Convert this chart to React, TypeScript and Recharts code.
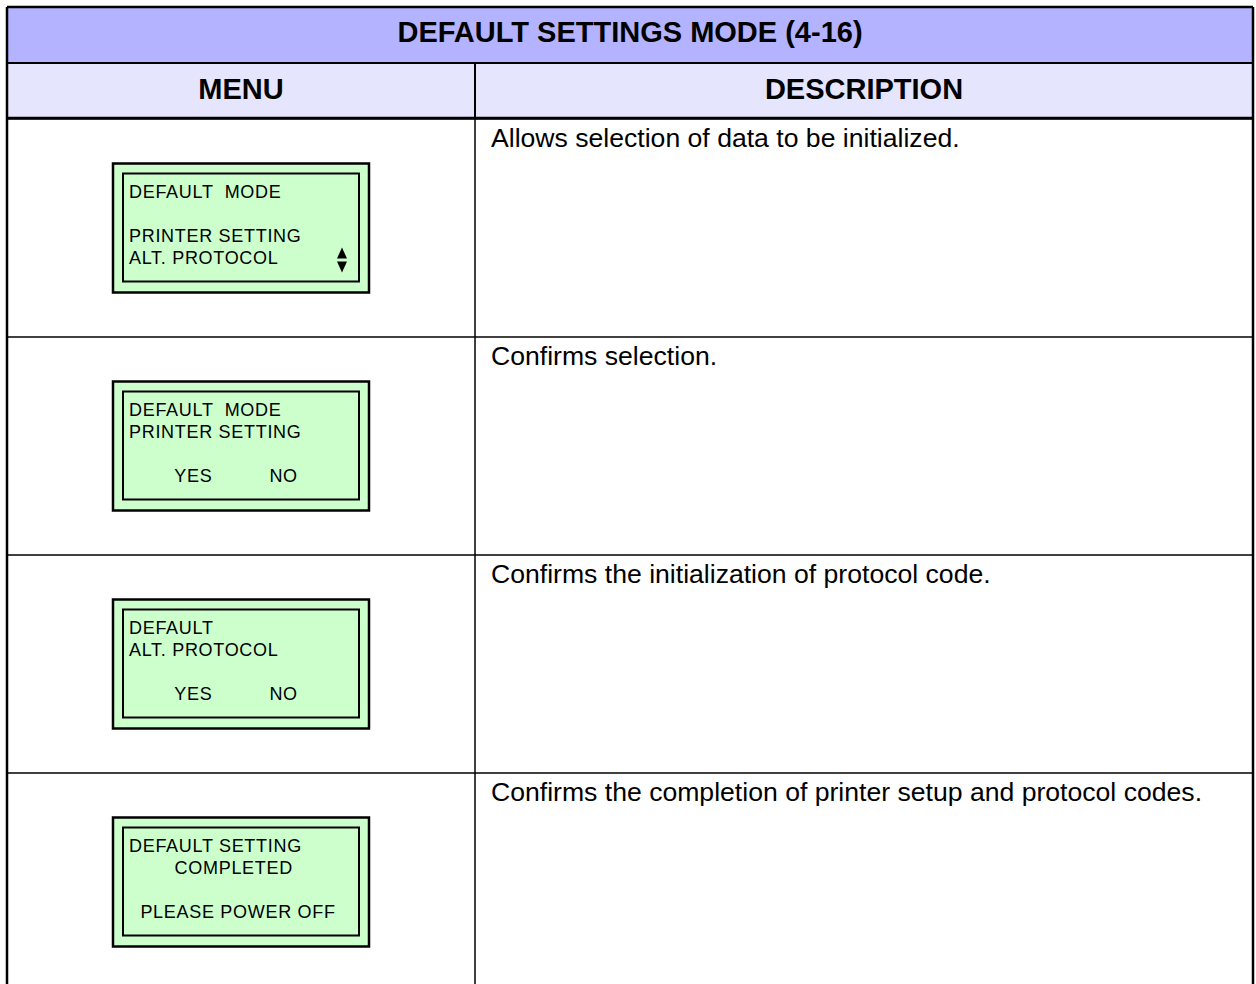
import { BarChart, Bar, XAxis, YAxis, Customized } from 'recharts';

// rows of the settings table (one band per row)
const rowIds = ['select', 'confirm', 'protocol', 'complete'];
const rowSpan = [1, 1, 1, 1];
const lcdLines = [
  ['DEFAULT  MODE', '', 'PRINTER SETTING', 'ALT. PROTOCOL'],
  ['DEFAULT  MODE', 'PRINTER SETTING', '', '        YES          NO'],
  ['DEFAULT', 'ALT. PROTOCOL', '', '        YES          NO'],
  ['DEFAULT SETTING', '        COMPLETED', '', '  PLEASE POWER OFF'],
];
const lcdScroll = [true, false, false, false];
const descriptions = [
  'Allows selection of data to be initialized.',
  'Confirms selection.',
  'Confirms the initialization of protocol code.',
  'Confirms the completion of printer setup and protocol codes.',
];
const titleText = 'DEFAULT SETTINGS MODE (4-16)';
const columnHeads = ['MENU', 'DESCRIPTION'];

const FONT = "'Liberation Sans', Arial, Helvetica, sans-serif";
const LEFT = 7;
const RIGHT = 1253;
const TOP = 7;
const TITLE_H = 56;
const HEAD_H = 56;
const MENU_W = 468;
const TITLE_FILL = '#b3b3ff';
const HEAD_FILL = '#e5e5fd';
const LCD_FILL = '#ccffcc';

const rows = rowIds.map((id, i) => ({
  id,
  span: rowSpan[i],
  lcd: lcdLines[i],
  scroll: lcdScroll[i],
  text: descriptions[i],
}));

function RowShape(props: any) {
  const { x, y, width, height, payload } = props;
  const boxW = 256;
  const boxH = 129;
  const bx = x + 106;
  const by = y + (height - boxH) / 2;
  const divX = x + MENU_W;
  return (
    <g>
      <line x1={x} x2={x + width} y1={y} y2={y} stroke="#000" strokeWidth={1.5} />
      <line x1={divX} x2={divX} y1={y} y2={y + height} stroke="#000" strokeWidth={1.5} />
      <rect x={bx} y={by} width={boxW} height={boxH} fill={LCD_FILL} stroke="#000" strokeWidth={2.5} />
      <rect x={bx + 10} y={by + 10} width={boxW - 20} height={boxH - 21} fill="none" stroke="#000" strokeWidth={2} />
      {payload.lcd.map((line: string, i: number) => (
        <text
          key={i}
          x={bx + 16}
          y={by + 34 + i * 22}
          fontFamily={FONT}
          fontSize={18}
          letterSpacing={0.7}
          fill="#000"
          style={{ whiteSpace: 'pre' }}
        >
          {line}
        </text>
      ))}
      {payload.scroll && (
        <g fill="#000">
          <polygon points={`${bx + 229},${by + 84} ${bx + 224},${by + 95} ${bx + 234},${by + 95}`} />
          <polygon points={`${bx + 229},${by + 109} ${bx + 224},${by + 98} ${bx + 234},${by + 98}`} />
        </g>
      )}
      <text x={divX + 16} y={y + 28} fontFamily={FONT} fontSize={26.6} fill="#000">
        {payload.text}
      </text>
    </g>
  );
}

function TableFrame() {
  const headTop = TOP + TITLE_H;
  const bodyTop = headTop + HEAD_H;
  const divX = LEFT + MENU_W;
  return (
    <g>
      <rect x={LEFT} y={TOP} width={RIGHT - LEFT} height={TITLE_H} fill={TITLE_FILL} />
      <rect x={LEFT} y={headTop} width={RIGHT - LEFT} height={HEAD_H} fill={HEAD_FILL} />
      <text
        x={(LEFT + RIGHT) / 2}
        y={TOP + 35}
        textAnchor="middle"
        fontFamily={FONT}
        fontWeight="bold"
        fontSize={29}
        fill="#000"
      >
        {titleText}
      </text>
      <text x={(LEFT + divX) / 2} y={headTop + 36} textAnchor="middle" fontFamily={FONT} fontWeight="bold" fontSize={29} fill="#000">
        {columnHeads[0]}
      </text>
      <text x={(divX + RIGHT) / 2} y={headTop + 36} textAnchor="middle" fontFamily={FONT} fontWeight="bold" fontSize={29} fill="#000">
        {columnHeads[1]}
      </text>
      <line x1={LEFT} x2={RIGHT} y1={TOP} y2={TOP} stroke="#000" strokeWidth={2.5} />
      <line x1={LEFT} x2={RIGHT} y1={headTop} y2={headTop} stroke="#000" strokeWidth={2} />
      <line x1={LEFT} x2={RIGHT} y1={bodyTop - 1} y2={bodyTop - 1} stroke="#000" strokeWidth={2.5} />
      <line x1={divX} x2={divX} y1={headTop} y2={bodyTop} stroke="#000" strokeWidth={2} />
      <line x1={LEFT} x2={LEFT} y1={TOP} y2={1000} stroke="#000" strokeWidth={2.5} />
      <line x1={RIGHT} x2={RIGHT} y1={TOP} y2={1000} stroke="#000" strokeWidth={2.5} />
    </g>
  );
}

export default function App() {
  return (
    <div style={{ position: 'absolute', left: 0, top: 0, width: 1256, height: 984, overflow: 'hidden', background: '#fff' }}>
      <BarChart
        width={1256}
        height={1000}
        data={rows}
        layout="vertical"
        barCategoryGap={0}
        margin={{ top: 119, right: 3, bottom: 9, left: 7 }}
      >
        <XAxis type="number" domain={[0, 1]} hide />
        <YAxis type="category" dataKey="id" hide />
        <Bar dataKey="span" isAnimationActive={false} shape={(p: any) => <RowShape {...p} />} />
        <Customized component={<TableFrame />} />
      </BarChart>
    </div>
  );
}
